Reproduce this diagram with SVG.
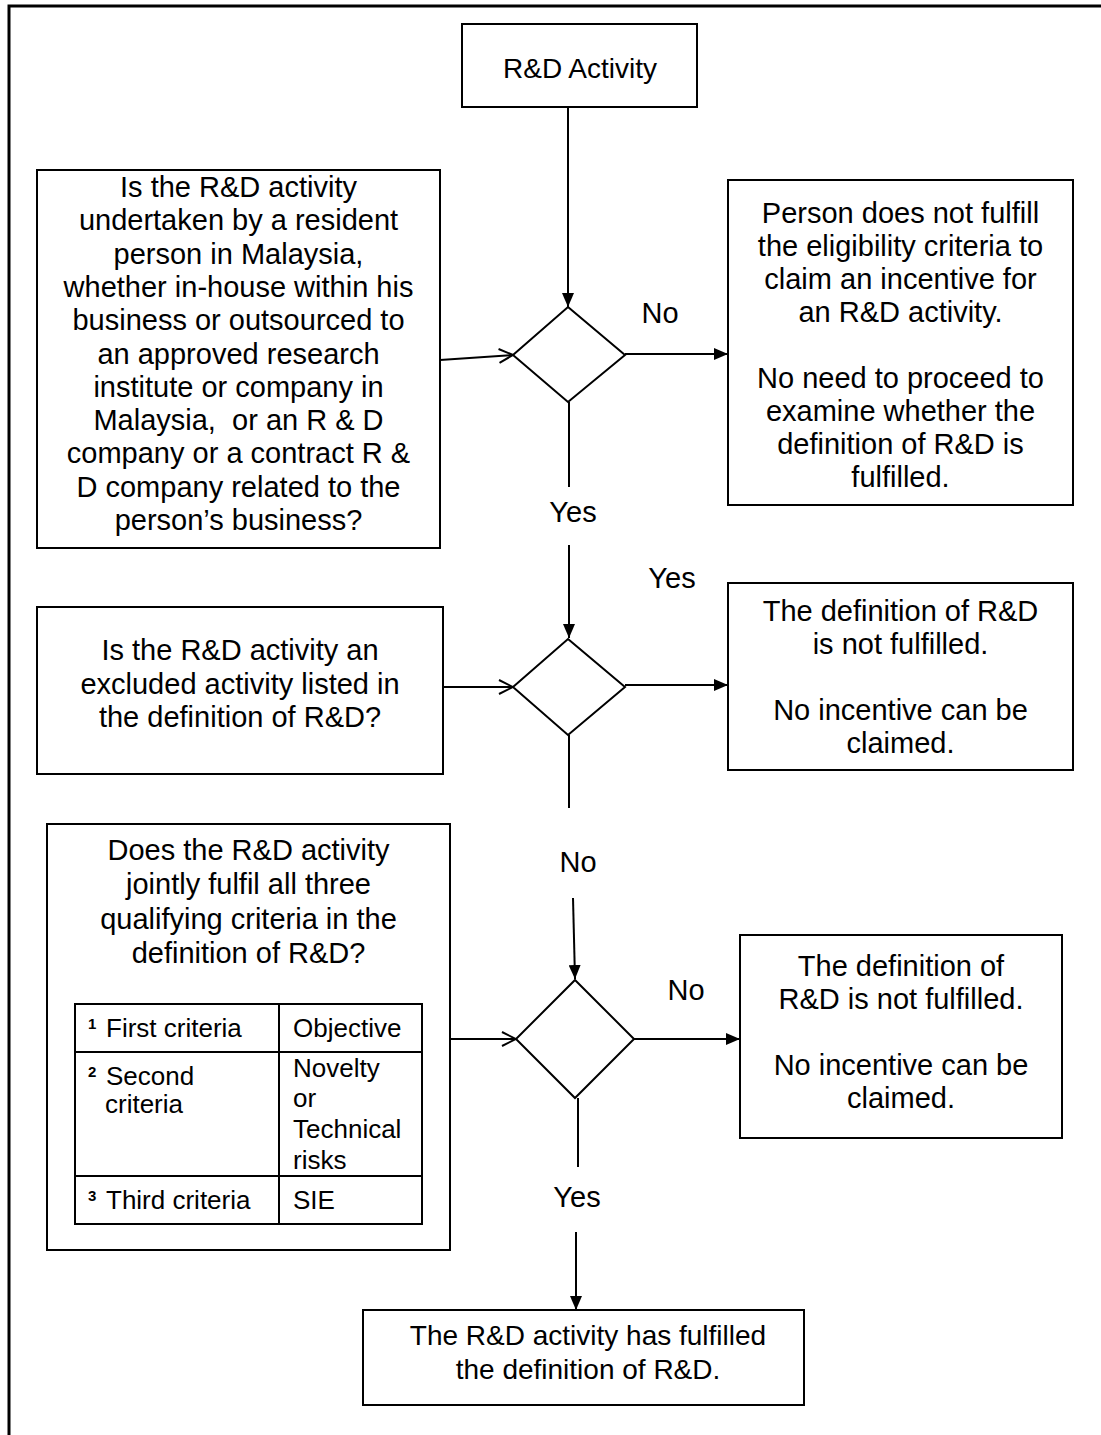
<svg xmlns="http://www.w3.org/2000/svg" width="1101" height="1435" viewBox="0 0 1101 1435">
<style>
.bx{fill:#fff;stroke:#000;stroke-width:2}
.dm{fill:#fff;stroke:#000;stroke-width:2}
.t{font-family:"Liberation Sans",Arial,sans-serif;font-size:29px;fill:#000;text-anchor:middle}
.tb{font-family:"Liberation Sans",Arial,sans-serif;font-size:26px;fill:#000}
.sup{font-family:"Liberation Sans",Arial,sans-serif;font-size:15px;font-weight:bold;fill:#000}
.c{stroke:#000;stroke-width:2;fill:none}
.frame{stroke:#000;stroke-width:3;fill:none}
</style>
<defs>
<marker id="ah" viewBox="0 0 14 12" refX="14" refY="6" markerWidth="14" markerHeight="12" orient="auto" markerUnits="userSpaceOnUse"><path d="M0,0 L14,6 L0,12 z" fill="#000"/></marker>
<marker id="av" viewBox="0 0 16 16" refX="15" refY="8" markerWidth="16" markerHeight="16" orient="auto" markerUnits="userSpaceOnUse"><path d="M1,1 L15,8 L1,15" fill="none" stroke="#000" stroke-width="2"/></marker>
</defs>
<rect width="1101" height="1435" fill="#fff"/>
<path class="frame" d="M9,1435 V6 H1101"/>

<g id="start">
<rect class="bx" x="462" y="24" width="235" height="83"/>
<text class="t" x="580" y="78" style="font-size:28px">R&amp;D Activity</text>
</g>

<g id="q1">
<rect class="bx" x="37" y="170" width="403" height="378"/>
<text class="t" x="238.5" y="197">Is the R&amp;D activity</text>
<text class="t" x="238.5" y="230.3">undertaken by a resident</text>
<text class="t" x="238.5" y="263.6">person in Malaysia,</text>
<text class="t" x="238.5" y="296.9">whether in-house within his</text>
<text class="t" x="238.5" y="330.2">business or outsourced to</text>
<text class="t" x="238.5" y="363.5">an approved research</text>
<text class="t" x="238.5" y="396.8">institute or company in</text>
<text class="t" x="238.5" y="430.1" xml:space="preserve">Malaysia,  or an R &amp; D</text>
<text class="t" x="238.5" y="463.4">company or a contract R &amp;</text>
<text class="t" x="238.5" y="496.7">D company related to the</text>
<text class="t" x="238.5" y="530">person’s business?</text>
</g>

<g id="d1"><polygon class="dm" points="568,307 625,355 568,402 513,355"/></g>

<g id="r1">
<rect class="bx" x="728" y="180" width="345" height="325"/>
<text class="t" x="900.5" y="223">Person does not fulfill</text>
<text class="t" x="900.5" y="256">the eligibility criteria to</text>
<text class="t" x="900.5" y="289">claim an incentive for</text>
<text class="t" x="900.5" y="322">an R&amp;D activity.</text>
<text class="t" x="900.5" y="388">No need to proceed to</text>
<text class="t" x="900.5" y="421">examine whether the</text>
<text class="t" x="900.5" y="454">definition of R&amp;D is</text>
<text class="t" x="900.5" y="487">fulfilled.</text>
</g>

<g id="q2">
<rect class="bx" x="37" y="607" width="406" height="167"/>
<text class="t" x="240" y="660">Is the R&amp;D activity an</text>
<text class="t" x="240" y="694">excluded activity listed in</text>
<text class="t" x="240" y="727">the definition of R&amp;D?</text>
</g>

<g id="d2"><polygon class="dm" points="568,639 625,687 568,735 513,687"/></g>

<g id="r2">
<rect class="bx" x="728" y="583" width="345" height="187"/>
<text class="t" x="900.5" y="621">The definition of R&amp;D</text>
<text class="t" x="900.5" y="654">is not fulfilled.</text>
<text class="t" x="900.5" y="720">No incentive can be</text>
<text class="t" x="900.5" y="753">claimed.</text>
</g>

<g id="q3">
<rect class="bx" x="47" y="824" width="403" height="426"/>
<text class="t" x="248.5" y="860">Does the R&amp;D activity</text>
<text class="t" x="248.5" y="894">jointly fulfil all three</text>
<text class="t" x="248.5" y="929">qualifying criteria in the</text>
<text class="t" x="248.5" y="963">definition of R&amp;D?</text>
<g id="criteria-table">
<rect x="75" y="1004" width="347" height="220" fill="#fff" stroke="#000" stroke-width="2"/>
<path d="M279,1004 V1224 M75,1052 H422 M75,1176 H422" stroke="#000" stroke-width="2" fill="none"/>
<text class="sup" x="88" y="1029">1</text>
<text class="tb" x="106" y="1037">First criteria</text>
<text class="tb" x="293" y="1037">Objective</text>
<text class="sup" x="88" y="1077">2</text>
<text class="tb" x="106" y="1085">Second</text>
<text class="tb" x="105" y="1113">criteria</text>
<text class="tb" x="293" y="1077">Novelty</text>
<text class="tb" x="293" y="1107">or</text>
<text class="tb" x="293" y="1138">Technical</text>
<text class="tb" x="293" y="1169">risks</text>
<text class="sup" x="88" y="1201">3</text>
<text class="tb" x="106" y="1209">Third criteria</text>
<text class="tb" x="293" y="1209">SIE</text>
</g>
</g>

<g id="d3"><polygon class="dm" points="575,980 634,1039 575,1098 516,1039"/></g>

<g id="r3">
<rect class="bx" x="740" y="935" width="322" height="203"/>
<text class="t" x="901" y="976">The definition of</text>
<text class="t" x="901" y="1009">R&amp;D is not fulfilled.</text>
<text class="t" x="901" y="1075">No incentive can be</text>
<text class="t" x="901" y="1108">claimed.</text>
</g>

<g id="end">
<rect class="bx" x="363" y="1310" width="441" height="95"/>
<text class="t" x="588" y="1345" style="font-size:28px">The R&amp;D activity has fulfilled</text>
<text class="t" x="588" y="1379" style="font-size:28px">the definition of R&amp;D.</text>
</g>

<g id="connectors">
<line class="c" x1="568" y1="107" x2="568" y2="307" marker-end="url(#ah)"/>
<line class="c" x1="440" y1="360" x2="513" y2="355" marker-end="url(#av)"/>
<line class="c" x1="625" y1="354" x2="728" y2="354" marker-end="url(#ah)"/>
<line class="c" x1="569" y1="402" x2="569" y2="487"/>
<line class="c" x1="569" y1="545" x2="569" y2="638" marker-end="url(#ah)"/>
<line class="c" x1="443" y1="687" x2="513" y2="687" marker-end="url(#av)"/>
<line class="c" x1="625" y1="685" x2="728" y2="685" marker-end="url(#ah)"/>
<line class="c" x1="569" y1="735" x2="569" y2="808"/>
<line class="c" x1="573" y1="898" x2="575" y2="979" marker-end="url(#ah)"/>
<line class="c" x1="450" y1="1039" x2="516" y2="1039" marker-end="url(#av)"/>
<line class="c" x1="634" y1="1039" x2="740" y2="1039" marker-end="url(#ah)"/>
<line class="c" x1="578" y1="1098" x2="578" y2="1167"/>
<line class="c" x1="576" y1="1232" x2="576" y2="1310" marker-end="url(#ah)"/>
<text class="t" x="660" y="323">No</text>
<text class="t" x="573" y="522">Yes</text>
<text class="t" x="672" y="588">Yes</text>
<text class="t" x="578" y="872">No</text>
<text class="t" x="686" y="1000">No</text>
<text class="t" x="577" y="1207">Yes</text>
</g>
</svg>
